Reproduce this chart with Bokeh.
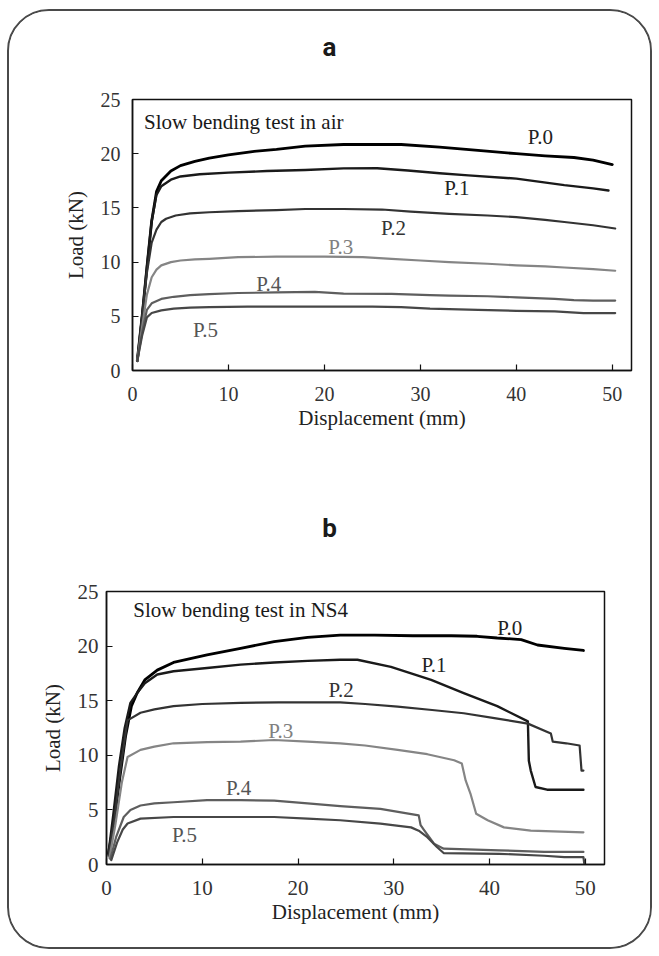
from bokeh.plotting import figure
from bokeh.layouts import column, row
from bokeh.models import Range1d, FixedTicker, ColumnDataSource
from bokeh.core.properties import value
from bokeh.embed import file_html
from bokeh.resources import INLINE

# ---------------- data ----------------
series_names = ["P.0", "P.1", "P.2", "P.3", "P.4", "P.5"]
x_ticks = [0, 10, 20, 30, 40, 50]
y_ticks = [0, 5, 10, 15, 20, 25]

# (a) slow bending test in air
air_p0_x = [0.5, 1.0, 1.5, 2.0, 2.5, 3.0, 4.0, 5.0, 6.5, 8, 10, 12.5, 15, 18, 22, 28, 32, 36, 40, 43, 46, 48, 50]
air_p0_y = [0.9, 5.0, 9.5, 13.8, 16.5, 17.5, 18.4, 18.9, 19.3, 19.6, 19.9, 20.2, 20.4, 20.7, 20.85, 20.85, 20.6, 20.3, 20.0, 19.8, 19.65, 19.4, 19.0]
air_p1_x = [0.5, 1.0, 1.5, 2.0, 2.5, 3.0, 4, 5, 7, 10, 14, 18, 22, 25.5, 28.7, 32, 35, 40, 45, 48, 49.6]
air_p1_y = [0.9, 5.0, 9.5, 13.8, 16.2, 17.0, 17.6, 17.9, 18.1, 18.25, 18.4, 18.5, 18.65, 18.66, 18.45, 18.2, 18.0, 17.7, 17.1, 16.8, 16.6]
air_p2_x = [0.5, 1.0, 1.5, 2.0, 2.5, 3.0, 3.5, 4.5, 6, 8, 11, 15, 18, 22, 26, 29, 33, 37, 40, 43, 45, 48, 50.3]
air_p2_y = [0.9, 5.0, 9.0, 11.8, 13.0, 13.7, 14.0, 14.3, 14.5, 14.6, 14.7, 14.8, 14.9, 14.9, 14.85, 14.65, 14.45, 14.3, 14.15, 13.9, 13.7, 13.4, 13.1]
air_p3_x = [0.5, 1.0, 1.5, 2.0, 2.5, 3.0, 4.0, 5, 6.5, 8, 11, 15, 20, 24, 27, 30, 33, 37, 40, 43, 45, 48, 50.3]
air_p3_y = [0.9, 4.0, 7.0, 8.6, 9.3, 9.7, 10.0, 10.15, 10.25, 10.3, 10.45, 10.5, 10.5, 10.45, 10.3, 10.15, 10.0, 9.85, 9.7, 9.6, 9.5, 9.35, 9.2]
air_p4_x = [0.5, 1.0, 1.5, 2.0, 3.0, 4.3, 6, 8, 11, 15, 19, 22, 27, 31, 33, 37, 40, 44, 46, 48, 50.3]
air_p4_y = [0.9, 3.5, 5.6, 6.2, 6.6, 6.8, 6.95, 7.05, 7.15, 7.2, 7.25, 7.1, 7.07, 6.95, 6.9, 6.85, 6.75, 6.6, 6.5, 6.45, 6.45]
air_p5_x = [0.5, 1.0, 1.5, 2.0, 3.0, 4.3, 6, 8, 12, 17, 21, 25, 28, 31, 36, 40, 44, 47, 50.3]
air_p5_y = [0.9, 3.2, 4.9, 5.3, 5.55, 5.7, 5.8, 5.85, 5.9, 5.9, 5.9, 5.9, 5.85, 5.7, 5.6, 5.5, 5.45, 5.3, 5.3]

# (b) slow bending test in NS4
ns4_p0_x = [0.2, 0.8, 1.4, 2.0, 2.6, 3.2, 4.0, 5.3, 7, 10.5, 14, 17.5, 21, 24.4, 28, 32, 36, 38.7, 40.8, 43.3, 45, 47.8, 49.8]
ns4_p0_y = [1.0, 4.0, 8.0, 11.8, 14.5, 15.7, 16.9, 17.8, 18.5, 19.2, 19.8, 20.4, 20.8, 21.0, 21.0, 20.95, 20.95, 20.9, 20.74, 20.6, 20.1, 19.8, 19.6]
ns4_p1_x = [0.2, 0.7, 1.3, 1.9, 2.5, 3.2, 4.0, 5.3, 7, 10.5, 14, 17.5, 21, 24.4, 26.2, 29.7, 33.9, 37.3, 40.8, 44.0, 44.1, 44.3, 44.8, 46, 49.8]
ns4_p1_y = [1.0, 4.5, 9.0, 12.5, 14.8, 15.7, 16.6, 17.4, 17.7, 18.0, 18.3, 18.5, 18.65, 18.75, 18.75, 18.1, 16.9, 15.7, 14.5, 13.1, 9.5, 8.6, 7.1, 6.85, 6.85]
ns4_p2_x = [0.2, 0.8, 1.5, 2.2, 3.55, 5, 7, 10, 14, 18, 21, 24.4, 27, 30.4, 34, 37.3, 40.5, 44.0, 46.4, 46.6, 48, 49.4, 49.6, 49.8]
ns4_p2_y = [0.8, 4.0, 9.0, 13.2, 13.9, 14.2, 14.5, 14.7, 14.8, 14.85, 14.85, 14.85, 14.7, 14.45, 14.15, 13.85, 13.4, 12.9, 12.0, 11.25, 11.1, 10.9, 8.6, 8.6]
ns4_p3_x = [0.3, 0.9, 1.6, 2.2, 3.55, 5, 7, 10.5, 14, 17.5, 21, 24.4, 27, 30.4, 33.5, 36.3, 37.1, 37.5, 38.0, 38.6, 39.8, 41.5, 44.3, 49.8]
ns4_p3_y = [0.6, 3.5, 7.5, 9.85, 10.5, 10.8, 11.1, 11.2, 11.25, 11.4, 11.25, 11.1, 10.9, 10.5, 10.1, 9.55, 9.25, 7.7, 6.5, 4.65, 4.05, 3.4, 3.1, 2.95]
ns4_p4_x = [0.4, 1.0, 1.8, 2.5, 3.55, 5, 7, 10.5, 14, 17.5, 21, 24.4, 28.6, 32.6, 32.8, 33.2, 34.2, 35.2, 41, 45.7, 49.8]
ns4_p4_y = [0.5, 2.5, 4.35, 5.0, 5.4, 5.6, 5.7, 5.9, 5.9, 5.85, 5.6, 5.35, 5.1, 4.5, 3.6, 3.1, 1.9, 1.45, 1.3, 1.15, 1.15]
ns4_p5_x = [0.5, 1.1, 1.7, 2.2, 3.55, 7, 10.5, 14, 17.5, 21, 24.4, 28.6, 31.8, 32.6, 33.5, 34.5, 35.2, 41, 45.7, 47.8, 49.8, 49.9]
ns4_p5_y = [0.4, 2.0, 3.2, 3.75, 4.2, 4.35, 4.35, 4.35, 4.35, 4.2, 4.05, 3.75, 3.4, 3.1, 2.5, 1.6, 1.05, 0.98, 0.8, 0.67, 0.67, 0.0]

# ---------------- styles / layout ----------------
SERIF = "'Liberation Serif', 'Times New Roman', serif"
line_colors = ["#000000", "#1a1a1a", "#333333", "#858585", "#5e5e5e", "#474747"]
line_widths = [2.8, 2.4, 2.2, 2.2, 2.2, 2.2]
label_colors = ["#222222", "#222222", "#333333", "#808080", "#555555", "#555555"]

air_label_pos = [(42.5, 21.5), (33.8, 16.8), (27.2, 13.1), (21.7, 11.4), (14.2, 8.0), (7.6, 3.7)]
ns4_label_pos = [(42.1, 21.7), (34.2, 18.3), (24.5, 16.0), (18.2, 12.2), (13.8, 7.0), (8.15, 2.7)]

PAGE_W = 641


def make_letter(letter, height, x_px, y_px):
    """A small axis-less strip that carries the panel letter."""
    p = figure(width=PAGE_W, height=height, x_range=Range1d(0, PAGE_W), y_range=Range1d(0, height),
               title=None, output_backend="svg", toolbar_location=None,
               x_axis_location=None, y_axis_location=None, min_border=0)
    p.grid.visible = False
    p.outline_line_color = None
    p.background_fill_color = "white"
    p.border_fill_color = "white"
    p.text(x=[x_px], y=[y_px], text=[letter], text_color="#1a1a1a",
           text_font=value("Roboto"), text_font_style="bold", text_font_size="26px",
           text_align="center", text_baseline="middle")
    return p


def make_panel(note, note_pos, xs, ys, label_pos, height, borders, ytick_standoff, font_px):
    bl, br, bt, bb = borders
    p = figure(width=PAGE_W, height=height, x_range=Range1d(0, 52), y_range=Range1d(0, 25),
               title=None, output_backend="svg", toolbar_location=None,
               min_border_left=bl, min_border_right=br, min_border_top=bt, min_border_bottom=bb)
    p.grid.visible = False
    p.background_fill_color = "white"
    p.border_fill_color = "white"
    p.outline_line_color = "#111111"
    p.outline_line_width = 1.5
    p.outline_line_alpha = 1.0

    p.xaxis.ticker = FixedTicker(ticks=x_ticks)
    p.yaxis.ticker = FixedTicker(ticks=y_ticks)
    for ax in (p.xaxis[0], p.yaxis[0]):
        ax.axis_line_color = "#111111"
        ax.axis_line_width = 1.5
        ax.major_tick_in = 6
        ax.major_tick_out = 0
        ax.major_tick_line_color = "#111111"
        ax.major_tick_line_width = 1.2
        ax.minor_tick_line_color = None
        ax.major_label_text_font = SERIF
        ax.major_label_text_font_size = f"{font_px}px"
        ax.major_label_text_color = "#333333"
        ax.axis_label_text_font = SERIF
        ax.axis_label_text_font_size = "21px"
        ax.axis_label_text_font_style = "normal"
        ax.axis_label_text_color = "#222222"
    p.xaxis.axis_label = "Displacement (mm)"
    p.yaxis.axis_label = "Load (kN)"
    p.xaxis.major_label_standoff = 16
    p.xaxis.axis_label_standoff = 2
    p.yaxis.major_label_standoff = ytick_standoff
    p.yaxis.axis_label_standoff = 10

    for i in range(len(series_names)):
        p.line(xs[i], ys[i], line_color=line_colors[i], line_width=line_widths[i],
               line_join="round", line_cap="round")

    src = ColumnDataSource(dict(x=[lp[0] for lp in label_pos], y=[lp[1] for lp in label_pos],
                                t=series_names, c=label_colors))
    p.text(x="x", y="y", text="t", text_color="c", source=src,
           text_font=value(SERIF), text_font_size="21px",
           text_align="center", text_baseline="middle")

    p.text(x=[note_pos[0]], y=[note_pos[1]], text=[note], text_color="#1a1a1a",
           text_font=value(SERIF), text_font_size="21px",
           text_align="left", text_baseline="middle")
    return p


la = make_letter("a", 70, 320, 35)
p1 = make_panel("Slow bending test in air", (1.2, 22.9),
                [air_p0_x, air_p1_x, air_p2_x, air_p3_x, air_p4_x, air_p5_x],
                [air_p0_y, air_p1_y, air_p2_y, air_p3_y, air_p4_y, air_p5_y],
                air_label_pos, 389, (123, 19, 18, 100), 12, 20)
lb = make_letter("b", 80, 320, 23)
p2 = make_panel("Slow bending test in NS4", (2.8, 23.35),
                [ns4_p0_x, ns4_p1_x, ns4_p2_x, ns4_p3_x, ns4_p4_x, ns4_p5_x],
                [ns4_p0_y, ns4_p1_y, ns4_p2_y, ns4_p3_y, ns4_p4_y, ns4_p5_y],
                ns4_label_pos, 397, (97, 46, 41, 83), 8, 21)

layout = column(row(la), row(p1), row(lb), row(p2), spacing=0, margin=(9, 0, 0, 7),
                styles={"border": "2px solid #4a4a4a", "border-radius": "42px",
                        "background-color": "white", "overflow": "hidden"})

open("out.html", "w").write(file_html(layout, INLINE))
